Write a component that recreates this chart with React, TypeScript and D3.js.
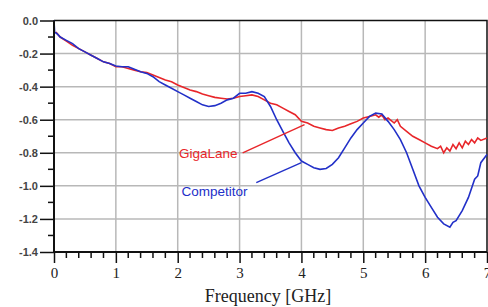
import React, { useEffect, useRef } from 'react';
import * as d3 from 'd3';

// GigaLane (red) measured curve
const gigaFreq = [
  0.03, 0.1, 0.2, 0.3, 0.4, 0.5, 0.6, 0.7, 0.8, 0.9, 1.0, 1.1, 1.2, 1.3, 1.4, 1.5, 1.6, 1.7,
  1.8, 1.9, 2.0, 2.1, 2.2, 2.3, 2.4, 2.5, 2.6, 2.7, 2.8, 2.9, 3.0, 3.1, 3.2, 3.3, 3.4, 3.5,
  3.6, 3.7, 3.8, 3.9, 4.0, 4.1, 4.2, 4.3, 4.4, 4.5, 4.6, 4.7, 4.8, 4.9, 5.0, 5.1, 5.2, 5.25,
  5.3, 5.35, 5.4, 5.5, 5.55, 5.6, 5.7, 5.8, 5.9, 6.0, 6.1, 6.2, 6.25, 6.3, 6.35, 6.4, 6.45,
  6.5, 6.55, 6.6, 6.65, 6.7, 6.75, 6.8, 6.85, 6.9, 7.0,
];
const gigaLoss = [
  -0.07, -0.1, -0.125, -0.15, -0.17, -0.19, -0.21, -0.23, -0.25, -0.26, -0.28, -0.28, -0.29,
  -0.3, -0.31, -0.315, -0.33, -0.345, -0.36, -0.37, -0.39, -0.405, -0.42, -0.43, -0.445,
  -0.455, -0.465, -0.47, -0.475, -0.47, -0.46, -0.455, -0.45, -0.46, -0.48, -0.5, -0.51,
  -0.53, -0.55, -0.57, -0.61, -0.62, -0.64, -0.65, -0.66, -0.665, -0.65, -0.64, -0.625,
  -0.61, -0.59, -0.58, -0.57, -0.585, -0.57, -0.6, -0.59, -0.62, -0.6, -0.64, -0.67, -0.7,
  -0.72, -0.74, -0.76, -0.775, -0.76, -0.8, -0.77, -0.79, -0.75, -0.775, -0.74, -0.77,
  -0.73, -0.75, -0.72, -0.74, -0.71, -0.725, -0.71,
];

// Competitor (blue) measured curve
const compFreq = [
  0.0, 0.01, 0.05, 0.1, 0.2, 0.3, 0.4, 0.5, 0.6, 0.7, 0.8, 0.9, 1.0, 1.1, 1.2, 1.3, 1.4, 1.5,
  1.6, 1.7, 1.8, 1.9, 2.0, 2.1, 2.2, 2.3, 2.4, 2.5, 2.6, 2.7, 2.8, 2.9, 3.0, 3.1, 3.2, 3.3,
  3.4, 3.5, 3.6, 3.7, 3.8, 3.9, 4.0, 4.1, 4.2, 4.3, 4.4, 4.5, 4.6, 4.7, 4.8, 4.9, 5.0, 5.1,
  5.2, 5.3, 5.4, 5.5, 5.6, 5.7, 5.8, 5.9, 6.0, 6.1, 6.2, 6.3, 6.4, 6.45, 6.5, 6.6, 6.7, 6.8,
  6.85, 6.9, 7.0,
];
const compLoss = [
  0.0, -0.07, -0.08, -0.1, -0.12, -0.14, -0.17, -0.19, -0.21, -0.23, -0.25, -0.26, -0.275,
  -0.28, -0.28, -0.295, -0.31, -0.32, -0.34, -0.37, -0.39, -0.41, -0.43, -0.45, -0.47,
  -0.49, -0.51, -0.52, -0.515, -0.5, -0.48, -0.47, -0.44, -0.44, -0.43, -0.44, -0.46, -0.52,
  -0.6, -0.67, -0.74, -0.8, -0.85, -0.87, -0.89, -0.9, -0.895, -0.87, -0.83, -0.77, -0.71,
  -0.66, -0.62, -0.58, -0.56, -0.565, -0.61, -0.66, -0.72, -0.8, -0.9, -1.0, -1.07, -1.13,
  -1.19, -1.23, -1.25, -1.22, -1.21, -1.15, -1.07, -0.96, -0.94, -0.86, -0.81,
];

const xTicks = [0, 1, 2, 3, 4, 5, 6, 7];
const yTicks = [0, -0.2, -0.4, -0.6, -0.8, -1.0, -1.2, -1.4];

// callouts: label anchor and the point on the curve the leader line hits
const callouts = [
  { label: 'GigaLane', color: '#e8262a', text: [2.02, -0.8], from: [3.05, -0.8], to: [4.05, -0.63] },
  { label: 'Competitor', color: '#2230c8', text: [2.06, -1.03], from: [3.27, -0.98], to: [4.0, -0.86] },
];

const W = 488;
const H = 307;

const App: React.FC = () => {
  const svgRef = useRef<SVGSVGElement>(null);

  useEffect(() => {
    if (!svgRef.current) return;
    const svg = d3.select(svgRef.current);
    svg.selectAll('*').remove();

    const x = d3.scaleLinear().domain([0, 7]).range([54, 487]);
    const y = d3.scaleLinear().domain([0, -1.4]).range([20.5, 252]);

    svg.append('rect').attr('width', W).attr('height', H).style('fill', '#fff');

    // grid
    const grid = svg.append('g');
    grid
      .selectAll('.gx')
      .data(xTicks.slice(1, -1))
      .enter()
      .append('line')
      .attr('x1', (d) => x(d))
      .attr('x2', (d) => x(d))
      .attr('y1', y(0))
      .attr('y2', y(-1.4))
      .style('stroke', '#b8b8b8')
      .style('stroke-width', 1.5);
    grid
      .selectAll('.gy')
      .data(yTicks.slice(1, -1))
      .enter()
      .append('line')
      .attr('x1', x(0))
      .attr('x2', x(7))
      .attr('y1', (d) => y(d))
      .attr('y2', (d) => y(d))
      .style('stroke', '#b8b8b8')
      .style('stroke-width', 1.5);

    // frame top / right
    svg
      .append('path')
      .attr('d', `M${x(0)},${y(0)}H${x(7)}V${y(-1.4)}`)
      .style('fill', 'none')
      .style('stroke', '#111')
      .style('stroke-width', 1.5);

    // curves
    const line = d3
      .line<[number, number]>()
      .x((d) => x(d[0]))
      .y((d) => y(d[1]));

    const giga = gigaFreq.map((f, i) => [f, gigaLoss[i]] as [number, number]);
    const comp = compFreq.map((f, i) => [f, compLoss[i]] as [number, number]);

    svg
      .append('path')
      .attr('d', line(giga))
      .style('fill', 'none')
      .style('stroke', '#e8262a')
      .style('stroke-width', 1.6);
    svg
      .append('path')
      .attr('d', line(comp))
      .style('fill', 'none')
      .style('stroke', '#2230c8')
      .style('stroke-width', 1.6);

    // callouts
    callouts.forEach((c) => {
      svg
        .append('line')
        .attr('x1', x(c.from[0]))
        .attr('y1', y(c.from[1]))
        .attr('x2', x(c.to[0]))
        .attr('y2', y(c.to[1]))
        .style('stroke', c.color)
        .style('stroke-width', 1.4);
      svg
        .append('text')
        .attr('x', x(c.text[0]))
        .attr('y', y(c.text[1]))
        .attr('dy', '0.35em')
        .style('font-family', '"Liberation Sans", Arial, sans-serif')
        .style('font-size', '13.5px')
        .style('fill', c.color)
        .text(c.label);
    });

    // y axis
    const yAxis = d3
      .axisLeft(y)
      .tickValues(yTicks)
      .tickSize(14)
      .tickFormat((d) => d3.format('.1f')(d as number).replace('−', '-'));
    const yg = svg.append('g').attr('transform', `translate(${x(0)},0)`).call(yAxis);
    yg.select('.domain').remove();
    yg.selectAll('line').style('stroke', '#111').style('stroke-width', 1.5);
    yg.selectAll('text')
      .attr('x', -16)
      .style('font-family', '"Liberation Sans", Arial, sans-serif')
      .style('font-size', '11px')
      .style('font-weight', 'bold')
      .style('fill', '#444');
    const yMinor = d3.range(-13, 0, 2).map((v) => v / 10);
    svg
      .append('g')
      .selectAll('line')
      .data(yMinor)
      .enter()
      .append('line')
      .attr('x1', x(0) - 6)
      .attr('x2', x(0))
      .attr('y1', (d) => y(d))
      .attr('y2', (d) => y(d))
      .style('stroke', '#111')
      .style('stroke-width', 1.5);

    // x axis
    const xAxis = d3.axisBottom(x).tickValues(xTicks).tickSize(11).tickFormat(d3.format('d'));
    const xg = svg.append('g').attr('transform', `translate(0,${y(-1.4)})`).call(xAxis);
    xg.select('.domain').remove();
    xg.selectAll('line').style('stroke', '#111').style('stroke-width', 1.5);
    xg.selectAll('text')
      .attr('y', 15)
      .style('font-family', '"Liberation Serif", "Times New Roman", serif')
      .style('font-size', '15px')
      .style('fill', '#222');
    const xMinor = d3.range(0, 35).map((i) => i / 5).filter((v) => Math.abs(v - Math.round(v)) > 0.01);
    svg
      .append('g')
      .selectAll('line')
      .data(xMinor)
      .enter()
      .append('line')
      .attr('x1', (d) => x(d))
      .attr('x2', (d) => x(d))
      .attr('y1', y(-1.4))
      .attr('y2', y(-1.4) + 6)
      .style('stroke', '#111')
      .style('stroke-width', 1.5);

    // axis lines
    svg
      .append('path')
      .attr('d', `M${x(0)},${y(0)}V${y(-1.4)}H${x(7)}`)
      .style('fill', 'none')
      .style('stroke', '#111')
      .style('stroke-width', 2);

    svg
      .append('text')
      .attr('x', 268)
      .attr('y', 302)
      .attr('text-anchor', 'middle')
      .style('font-family', '"Liberation Serif", "Times New Roman", serif')
      .style('font-size', '18px')
      .style('fill', '#222')
      .text('Frequency [GHz]');
  }, []);

  return (
    <svg
      ref={svgRef}
      width={W}
      height={H}
      style={{ position: 'absolute', left: 0, top: 0, display: 'block' }}
    />
  );
};

export default App;
